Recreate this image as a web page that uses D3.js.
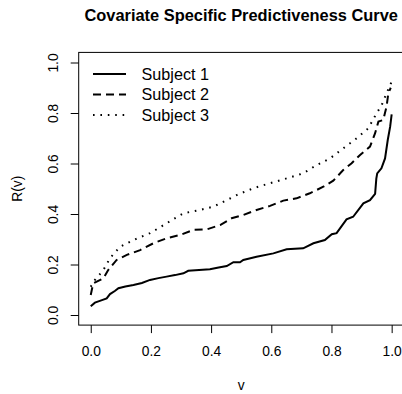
<!DOCTYPE html>
<html><head><meta charset="utf-8">
<script src="https://cdn.jsdelivr.net/npm/d3@7"></script>
<style>body{margin:0;background:#fff}svg{display:block}</style>
</head><body>
<script>
// ---- data ----
const vS1 = [0,0.014,0.035,0.053,0.064,0.08,0.092,0.115,0.142,0.17,0.197,0.225,0.252,0.28,0.308,0.324,0.36,0.396,0.425,0.452,0.474,0.496,0.507,0.551,0.607,0.651,0.706,0.74,0.778,0.801,0.817,0.85,0.872,0.906,0.928,0.945,0.949,0.952,0.966,0.978,0.987,0.995,1.0];
const rS1 = [0.035,0.049,0.058,0.066,0.083,0.095,0.106,0.113,0.119,0.127,0.139,0.146,0.152,0.158,0.165,0.175,0.178,0.181,0.188,0.194,0.209,0.209,0.218,0.231,0.244,0.26,0.264,0.284,0.297,0.32,0.324,0.379,0.389,0.442,0.455,0.48,0.54,0.561,0.581,0.62,0.693,0.746,0.795];
const vS2 = [0,0.008,0.042,0.058,0.086,0.12,0.164,0.208,0.252,0.297,0.341,0.385,0.43,0.468,0.507,0.551,0.596,0.64,0.684,0.728,0.773,0.806,0.839,0.867,0.895,0.928,0.945,0.956,0.972,0.983,0.989,0.997];
const rS2 = [0.079,0.125,0.145,0.178,0.218,0.238,0.257,0.284,0.304,0.317,0.337,0.339,0.356,0.383,0.396,0.416,0.432,0.453,0.462,0.482,0.508,0.532,0.574,0.601,0.634,0.667,0.72,0.766,0.772,0.825,0.878,0.9];
const vS3 = [0,0.014,0.042,0.064,0.097,0.142,0.197,0.252,0.308,0.363,0.407,0.452,0.485,0.54,0.596,0.651,0.706,0.751,0.795,0.839,0.884,0.922,0.95,0.967,0.983,1.0];
const rS3 = [0.112,0.139,0.178,0.225,0.27,0.297,0.324,0.363,0.403,0.416,0.429,0.455,0.475,0.502,0.522,0.541,0.561,0.594,0.62,0.66,0.70,0.739,0.799,0.832,0.878,0.924];
const seriesNames = ["Subject 1","Subject 2","Subject 3"];
const xTicks = [0,0.2,0.4,0.6,0.8,1.0];
const yTicks = [0,0.2,0.4,0.6,0.8,1.0];
const titleText = "Covariate Specific Predictiveness Curve";
const xLabel = "v", yLabel = "R(v)";

// ---- drawing ----
const W = 402, H = 394;
const L = 78.7, R = 403.7, T = 52.4, B = 325.1;
const font = "Liberation Sans, Arial, Helvetica, sans-serif";
const svg = d3.select("body").append("svg").attr("width", W).attr("height", H)
  .style("font-family", font);
const x = d3.scaleLinear().domain([-0.04, 1.04]).range([L, R]);
const y = d3.scaleLinear().domain([-0.04, 1.04]).range([B, T]);

const styles = [
  {dash: null},
  {dash: "8,5"},
  {dash: "1.6,5.8"}
];
const series = [[vS1, rS1], [vS2, rS2], [vS3, rS3]];
const line = d3.line().x(d => x(d[0])).y(d => y(d[1]));
series.forEach((s, i) => {
  const pts = s[0].map((v, j) => [v, s[1][j]]);
  svg.append("path").datum(pts).attr("d", line)
    .attr("fill", "none").attr("stroke", "#000").attr("stroke-width", 2)
    .attr("stroke-dasharray", styles[i].dash);
});

// box
svg.append("rect").attr("x", L).attr("y", T).attr("width", R - L).attr("height", B - T)
  .attr("fill", "none").attr("stroke", "#000").attr("stroke-width", 1);

// axes
const gx = svg.append("g").attr("transform", `translate(0,${B})`)
  .call(d3.axisBottom(x).tickValues(xTicks).tickFormat(d3.format(".1f")).tickSize(8).tickPadding(13));
gx.select(".domain").remove();
gx.selectAll("text").attr("font-size", 13.8).attr("font-family", font).attr("fill", "#000");
const gy = svg.append("g").attr("transform", `translate(${L},0)`)
  .call(d3.axisLeft(y).tickValues(yTicks).tickFormat(d3.format(".1f")).tickSize(8));
gy.select(".domain").remove();
gy.selectAll("text").attr("font-size", 13.8).attr("font-family", font).attr("fill", "#000")
  .attr("text-anchor", "middle").attr("dy", 0).attr("x", 0)
  .attr("transform", d => `translate(${58.5 - L},0) rotate(-90)`);
svg.selectAll(".tick line").attr("stroke", "#000");

// title & labels
svg.append("text").attr("x", (L + R) / 2).attr("y", 21).attr("text-anchor", "middle")
  .attr("font-weight", "bold").attr("font-size", 16.4).text(titleText);
svg.append("text").attr("x", (L + R) / 2).attr("y", 390).attr("text-anchor", "middle")
  .attr("font-size", 13.8).text(xLabel);
svg.append("text").attr("transform", `translate(22,${(T + B) / 2}) rotate(-90)`)
  .attr("text-anchor", "middle").attr("font-size", 13.8).text(yLabel);

// legend
const legY = [74, 94.5, 115];
seriesNames.forEach((n, i) => {
  svg.append("line").attr("x1", 93).attr("x2", 126).attr("y1", legY[i]).attr("y2", legY[i])
    .attr("stroke", "#000").attr("stroke-width", 2).attr("stroke-dasharray", styles[i].dash);
  svg.append("text").attr("x", 141.5).attr("y", legY[i] + 5.8).attr("font-size", 16.2).text(n);
});
</script>
</body></html>
